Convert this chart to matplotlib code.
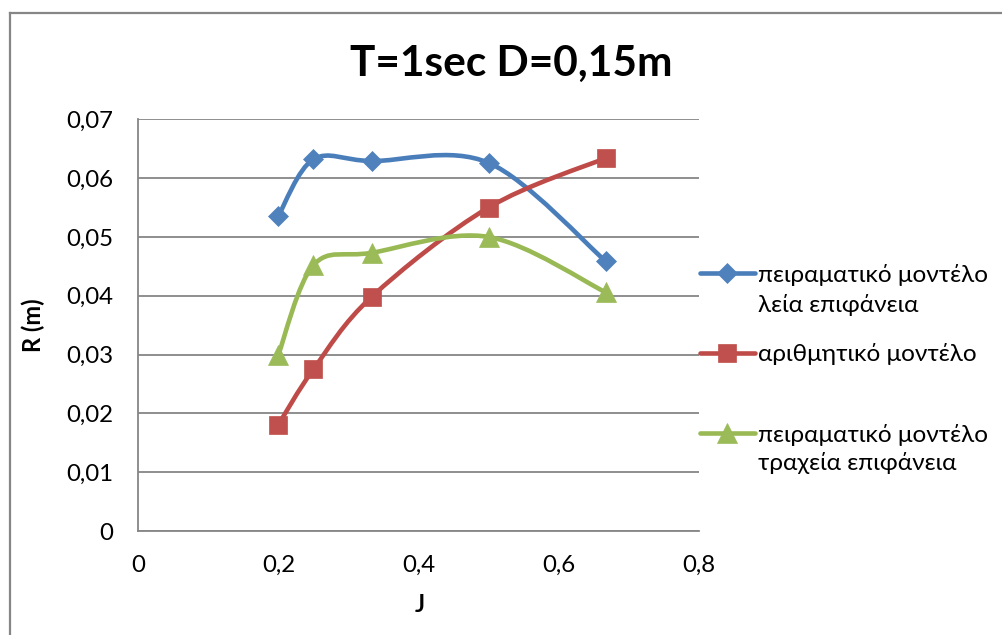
import numpy as np
import matplotlib
matplotlib.use('Agg')
import matplotlib.pyplot as plt
from matplotlib.path import Path
from matplotlib.patches import PathPatch
from matplotlib.lines import Line2D
from matplotlib.ticker import FuncFormatter

plt.rcParams['font.family'] = ['Lato', 'DejaVu Sans']

# J values and radius R (m) for each model
J = [0.2, 0.25, 0.333, 0.5, 0.667]
R_smooth = [0.0536, 0.0632, 0.0629, 0.0626, 0.0459]
R_numeric = [0.0181, 0.0275, 0.0398, 0.0550, 0.0634]
R_rough = [0.0300, 0.0452, 0.0473, 0.0500, 0.0406]

labels = ['πειραματικό μοντέλο\nλεία επιφάνεια',
          'αριθμητικό μοντέλο',
          'πειραματικό μοντέλο\nτραχεία επιφάνεια']
x_ticks = [0, 0.2, 0.4, 0.6, 0.8]
y_ticks = [0, 0.01, 0.02, 0.03, 0.04, 0.05, 0.06, 0.07]

W, H = 1003, 635
GRAY = '#868686'


def px(x, y):
    # pixel position (from top-left) -> figure fraction
    return x / W, 1 - y / H


def smooth_path(x, y):
    # bezier segments through the points (catmull-rom tangents)
    pts = np.column_stack([x, y])
    n = len(pts)
    verts = [pts[0]]
    codes = [Path.MOVETO]
    for i in range(n - 1):
        p0 = pts[max(i - 1, 0)]
        p1 = pts[i]
        p2 = pts[i + 1]
        p3 = pts[min(i + 2, n - 1)]
        verts += [p1 + (p2 - p0) / 6, p2 - (p3 - p1) / 6, p2]
        codes += [Path.CURVE4] * 3
    return Path(verts, codes)


fig = plt.figure(figsize=(W / 100, H / 100), dpi=100)
l, b = px(138.3, 531)
r, t = px(698.7, 119.3)
ax = fig.add_axes([l, b, r - l, t - b])

series = [
    (R_smooth, '#4A7EBB', '#4F81BD', 'D', 10.5),
    (R_numeric, '#BE4B48', '#C0504D', 's', 13.5),
    (R_rough, '#98B954', '#9BBB59', '^', 14.5),
]

for vals, lc, mc, mk, ms in series:
    ax.add_patch(PathPatch(smooth_path(J, vals), fill=False, edgecolor=lc,
                           lw=3.3, capstyle='round', joinstyle='round', zorder=3))
    ax.plot(J, vals, ls='none', marker=mk, ms=ms, color=mc, mec=mc, mew=0.5, zorder=4)

ax.set_xlim(0, 0.8)
ax.set_ylim(0, 0.07)
ax.set_xticks(x_ticks)
ax.set_yticks(y_ticks)
fmt = FuncFormatter(lambda v, p: ('%g' % round(v, 3)).replace('.', ','))
ax.xaxis.set_major_formatter(fmt)
ax.yaxis.set_major_formatter(fmt)
ax.tick_params(axis='both', length=0, labelsize=17.3, colors='black')
ax.tick_params(axis='y', pad=18)
ax.tick_params(axis='x', pad=17)
ax.yaxis.grid(True, color=GRAY, lw=1.3)
ax.set_axisbelow(True)
for s in ['top', 'right']:
    ax.spines[s].set_visible(False)
for s in ['left', 'bottom']:
    ax.spines[s].set_color(GRAY)
    ax.spines[s].set_linewidth(1.3)

# outer chart frame
fig.add_artist(Line2D([10 / W, 10 / W], [0, 1 - 13 / H], color=GRAY, lw=1.6))
fig.add_artist(Line2D([10 / W, 1], [1 - 13 / H, 1 - 13 / H], color=GRAY, lw=1.6))

fig.text(*px(511, 64), 'T=1sec D=0,15m', ha='center', va='center',
         fontsize=30.5, fontweight='bold')
fig.text(*px(33, 325), 'R (m)', ha='center', va='center', rotation=90,
         fontsize=17, fontweight='bold')
fig.text(*px(420, 605), 'J', ha='center', va='center',
         fontsize=17, fontweight='bold')

# legend drawn by hand so the marker lines up with the first text line
handle_y = [273.3, 353.3, 433.3]
base_y = [[281.7, 311.7], [360.7], [441.7, 470.0]]
for (vals, lc, mc, mk, ms), lab, hy, by in zip(series, labels, handle_y, base_y):
    x0, y0 = px(700, hy)
    x1, _ = px(755, hy)
    fig.add_artist(Line2D([x0, x1], [y0, y0], color=lc, lw=3.3, solid_capstyle='round'))
    fig.add_artist(Line2D([(x0 + x1) / 2], [y0], ls='none', marker=mk, ms=ms,
                          color=mc, mec=mc, mew=0.5))
    for line, yb in zip(lab.split('\n'), by):
        fig.text(*px(758, yb), line, ha='left', va='baseline', fontsize=17.6)

fig.savefig('out.png', dpi=100)
